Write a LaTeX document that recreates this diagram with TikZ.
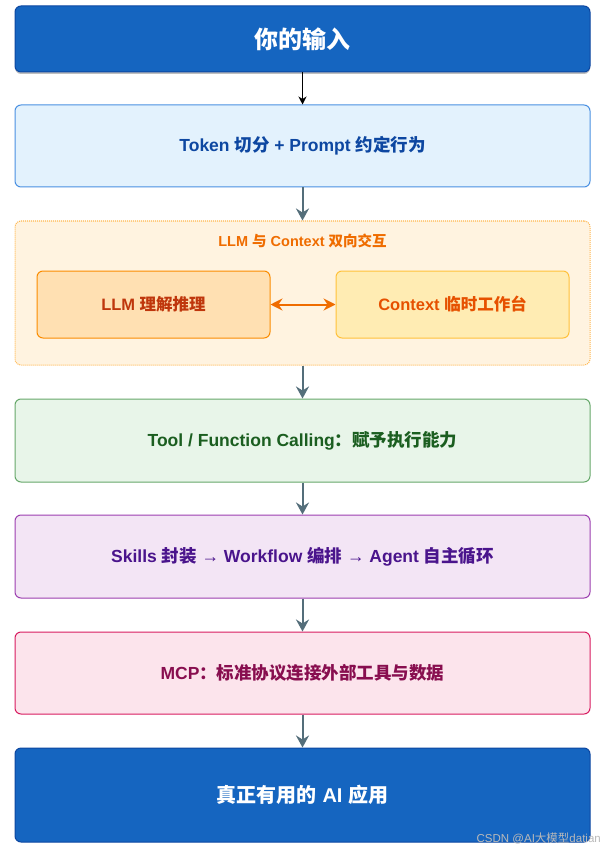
\documentclass[tikz,border=0pt]{standalone}
\usepackage{fontspec}
\setmainfont{Liberation Sans}
\newfontfamily\cjk{Noto Sans CJK SC}
\newcommand{\zh}[1]{{\cjk #1}}
\usetikzlibrary{arrows.meta,shadows}
\definecolor{darkblue}{HTML}{1565C0}
\definecolor{darkblueb}{HTML}{0D47A1}
\definecolor{lblue}{HTML}{E3F2FD}
\definecolor{lblueb}{HTML}{4A90E2}
\definecolor{blueText}{HTML}{0D47A1}
\definecolor{grpfill}{HTML}{FFF3E0}
\definecolor{grpb}{HTML}{FFB74D}
\definecolor{grptext}{HTML}{EF6C00}
\definecolor{llmfill}{HTML}{FFE0B2}
\definecolor{llmb}{HTML}{FB8C00}
\definecolor{llmtext}{HTML}{BF360C}
\definecolor{ctxfill}{HTML}{FFECB3}
\definecolor{ctxb}{HTML}{FFC13B}
\definecolor{ctxtext}{HTML}{E65100}
\definecolor{greenfill}{HTML}{E8F5E9}
\definecolor{greenb}{HTML}{66A86A}
\definecolor{greentext}{HTML}{1B5E20}
\definecolor{purfill}{HTML}{F3E5F5}
\definecolor{purb}{HTML}{9C3FB0}
\definecolor{purtext}{HTML}{4A148C}
\definecolor{pinkfill}{HTML}{FCE4EC}
\definecolor{pinkb}{HTML}{D81B60}
\definecolor{pinktext}{HTML}{880E4F}
\definecolor{arrowgray}{HTML}{546E7A}
\begin{document}
\begin{tikzpicture}[x=1pt,y=-1pt,
  box/.style={rectangle, rounded corners=6pt, minimum width=575pt, line width=1pt, inner sep=0pt,
    font=\bfseries\fontsize{17.5}{21}\selectfont},
  inner/.style={rectangle, rounded corners=6pt, minimum width=233pt, minimum height=67pt, line width=1pt, inner sep=0pt,
    font=\bfseries\fontsize{16.5}{20}\selectfont},
  flow/.style={draw=arrowgray, line width=2pt, -{Stealth[length=12pt,width=13pt,inset=4pt]}},
  flowblack/.style={draw=black, line width=1pt, -{Stealth[length=8pt,width=8pt,inset=2.5pt]}},
  biarrow/.style={draw=grptext, line width=2pt, {Stealth[length=12pt,width=12pt,inset=4pt]}-{Stealth[length=12pt,width=12pt,inset=4pt]}}
]
\useasboundingbox (0,0) rectangle (605,850);
\fill[white] (0,0) rectangle (605,850);

\node[box, minimum height=66pt, fill=darkblue, draw=darkblueb, text=white,
  font=\bfseries\fontsize{24}{28}\selectfont,
  drop shadow={shadow xshift=0pt, shadow yshift=-2pt, opacity=0.25, fill=black}]
  (input) at (302.5,39) {\zh{你的输入}};

\node[box, minimum height=82pt, fill=lblue, draw=lblueb, text=blueText]
  (token) at (302.5,146) {Token \zh{切分} + Prompt \zh{约定行为}};

\node[box, minimum height=144pt, fill=grpfill, draw=grpb, dash pattern=on 1pt off 1pt] (group) at (302.5,293) {};
\node[text=grptext, font=\bfseries\fontsize{14.5}{17}\selectfont] (gtitle) at (302.5,241) {LLM \zh{与} Context \zh{双向交互}};

\node[inner, fill=llmfill, draw=llmb, text=llmtext] (llm) at (153.5,304.5) {LLM \zh{理解推理}};
\node[inner, fill=ctxfill, draw=ctxb, text=ctxtext] (ctx) at (452.5,304.5) {Context \zh{临时工作台}};

\node[box, minimum height=83pt, fill=greenfill, draw=greenb, text=greentext]
  (tool) at (302.5,440.5) {Tool / Function Calling\zh{：赋予执行能力}};

\node[box, minimum height=83pt, fill=purfill, draw=purb, text=purtext]
  (skills) at (302.5,556.5) {Skills \zh{封装} → Workflow \zh{编排} → Agent \zh{自主循环}};

\node[box, minimum height=82pt, fill=pinkfill, draw=pinkb, text=pinktext]
  (mcp) at (302.5,673) {MCP\zh{：标准协议连接外部工具与数据}};

\node[box, minimum height=94pt, fill=darkblue, draw=darkblueb, text=white,
  font=\bfseries\fontsize{20}{24}\selectfont]
  (final) at (302.5,795) {\zh{真正有用的} AI \zh{应用}};

\draw[flowblack] (input.south) -- (token.north);
\draw[flow] (token.south) -- (group.north);
\draw[biarrow] (llm.east) -- (ctx.west);
\draw[flow] (group.south) -- (tool.north);
\draw[flow] (tool.south) -- (skills.north);
\draw[flow] (skills.south) -- (mcp.north);
\draw[flow] (mcp.south) -- (final.north);

\node[anchor=east, text=gray!55, font=\fontsize{11.5}{13}\selectfont, inner sep=0pt] (wm) at (601,838) {CSDN @AI\zh{大模型}datian};
\end{tikzpicture}
\end{document}
